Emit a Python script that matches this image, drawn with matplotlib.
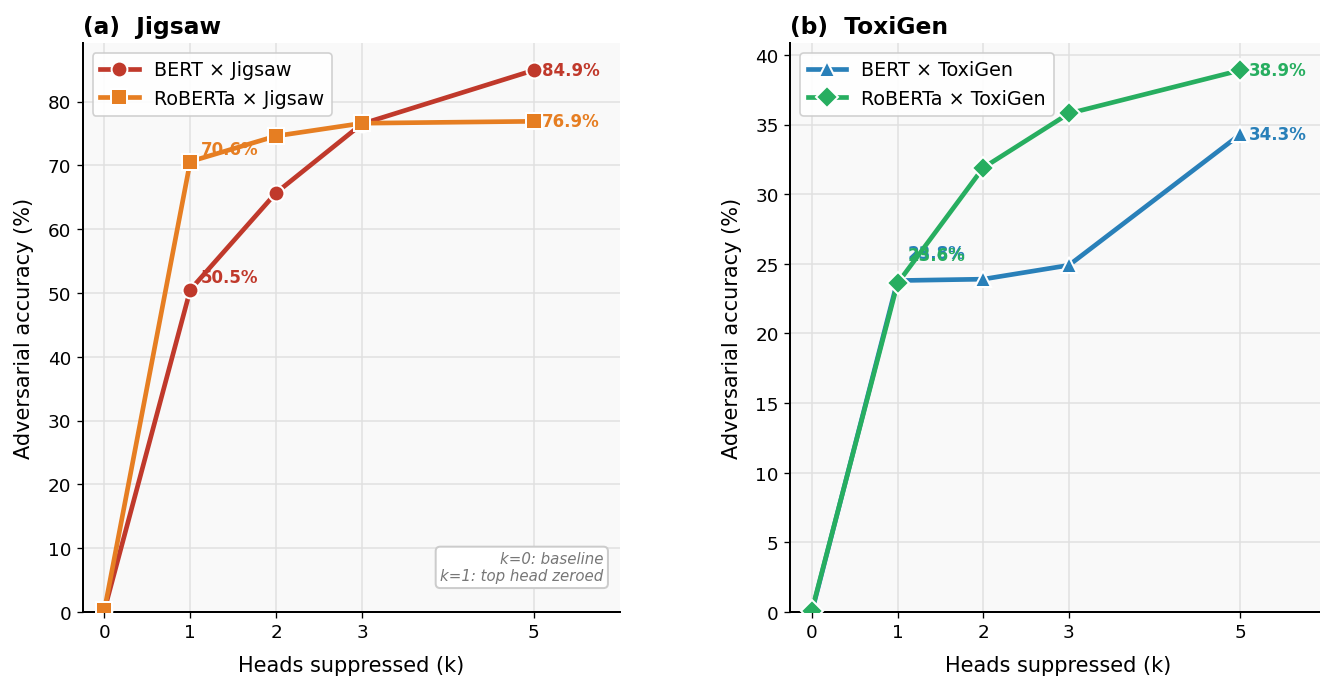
import numpy as np
import matplotlib.pyplot as plt
from matplotlib.ticker import MultipleLocator

k = [0, 1, 2, 3, 5]

# Jigsaw
bert_jig = [0.3, 50.5, 65.7, 76.5, 84.9]
roberta_jig = [0.3, 70.6, 74.6, 76.6, 76.9]
# ToxiGen
bert_tox = [0.0, 23.8, 23.9, 24.9, 34.3]
roberta_tox = [0.1, 23.6, 31.9, 35.8, 38.9]

panels = [
    ("(a)  Jigsaw", 10, [("BERT × Jigsaw", bert_jig, "#c0392b", "o"),
                         ("RoBERTa × Jigsaw", roberta_jig, "#e67e22", "s")]),
    ("(b)  ToxiGen", 5, [("BERT × ToxiGen", bert_tox, "#2980b9", "^"),
                         ("RoBERTa × ToxiGen", roberta_tox, "#27ae60", "D")]),
]

fig = plt.figure(figsize=(11.0, 5.64), dpi=120)
ax1 = fig.add_axes([83/1321, 1 - 613/677, (620 - 83)/1321, (613 - 44)/677])
ax2 = fig.add_axes([791/1321, 1 - 613/677, (1327 - 791)/1321, (613 - 44)/677])

for ax, (title, step, series) in zip([ax1, ax2], panels):
    ax.set_facecolor("#f9f9f9")
    ymax = 0
    for name, vals, col, mk in series:
        ax.plot(k, vals, color=col, marker=mk, lw=2.8, ms=9.5,
                mec="white", mew=1.2, label=name, zorder=3)
        ymax = max(ymax, max(vals))
        # value labels at k=1 and the last k (overlap at k=1 on ToxiGen as in source)
        ax.text(k[1] + 0.12, vals[1] + 2, f"{vals[1]:.1f}%", fontsize=10,
                fontweight="bold", color=col, va="center", ha="left", zorder=2)
        ax.annotate(f"{vals[-1]:.1f}%", (k[-1], vals[-1]), xytext=(5, 0),
                    textcoords="offset points", fontsize=10, fontweight="bold",
                    color=col, va="center", ha="left", zorder=2)
    ax.set_xlim(-0.25, 6)
    ax.set_ylim(0, ymax * 1.05)
    ax.set_xticks(k)
    ax.yaxis.set_major_locator(MultipleLocator(step))
    ax.grid(True, color="#e0e0e0", lw=0.9)
    ax.set_axisbelow(True)
    ax.spines["top"].set_visible(False)
    ax.spines["right"].set_visible(False)
    ax.spines["left"].set_linewidth(1.2)
    ax.spines["bottom"].set_linewidth(1.2)
    ax.tick_params(labelsize=11)
    ax.set_xlabel("Heads suppressed (k)", fontsize=12.5, labelpad=8)
    ax.set_ylabel("Adversarial accuracy (%)", fontsize=12.5, labelpad=8)
    ax.set_title(title, loc="left", fontsize=14, fontweight="bold")
    ax.legend(loc="upper left", fontsize=11.5, framealpha=0.9, edgecolor="#cccccc")

ax1.text(0.97, 0.05, "k=0: baseline\nk=1: top head zeroed", transform=ax1.transAxes,
         ha="right", va="bottom", fontsize=9, style="italic", color="#777777",
         bbox=dict(boxstyle="round,pad=0.3", fc="white", ec="#cccccc", lw=1.2))

fig.savefig("out.png", dpi=120)
